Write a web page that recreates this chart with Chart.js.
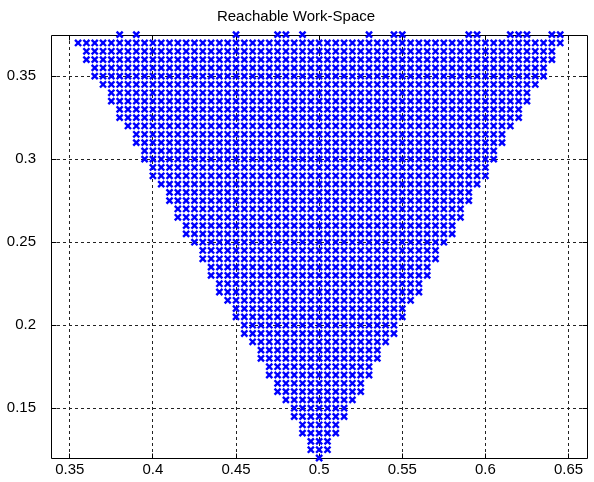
<!DOCTYPE html>
<html>
<head>
<meta charset="utf-8">
<script src="https://cdn.jsdelivr.net/npm/chart.js@4/dist/chart.umd.min.js"></script>
<style>
  html, body { margin: 0; padding: 0; background: #fff; }
</style>
</head>
<body>
<canvas id="myChart" width="594" height="482"></canvas>
<script>
// each row of the reachable grid: its y, and the leftmost / rightmost x
var rowY = [0.37, 0.365, 0.36, 0.355, 0.35, 0.345, 0.34, 0.335, 0.33, 0.325,
            0.32, 0.315, 0.31, 0.305, 0.30, 0.295, 0.29, 0.285, 0.28, 0.275,
            0.27, 0.265, 0.26, 0.255, 0.25, 0.245, 0.24, 0.235, 0.23, 0.225,
            0.22, 0.215, 0.21, 0.205, 0.20, 0.195, 0.19, 0.185, 0.18, 0.175,
            0.17, 0.165, 0.16, 0.155, 0.15, 0.145, 0.14, 0.135, 0.13, 0.125, 0.12];
var rowLeft = [0.355, 0.36, 0.36, 0.365, 0.365, 0.37, 0.375, 0.375, 0.38, 0.38,
               0.385, 0.39, 0.39, 0.395, 0.395, 0.40, 0.40, 0.405, 0.41, 0.41,
               0.415, 0.415, 0.42, 0.42, 0.425, 0.43, 0.43, 0.435, 0.435, 0.44,
               0.44, 0.445, 0.45, 0.45, 0.455, 0.455, 0.46, 0.465, 0.465, 0.47,
               0.47, 0.475, 0.475, 0.48, 0.485, 0.485, 0.49, 0.49, 0.495, 0.495, 0.50];
var rowRight = [0.645, 0.64, 0.64, 0.635, 0.635, 0.63, 0.625, 0.625, 0.62, 0.62,
                0.615, 0.61, 0.61, 0.605, 0.605, 0.60, 0.60, 0.595, 0.59, 0.59,
                0.585, 0.585, 0.58, 0.58, 0.575, 0.57, 0.57, 0.565, 0.565, 0.56,
                0.56, 0.555, 0.55, 0.55, 0.545, 0.545, 0.54, 0.535, 0.535, 0.53,
                0.53, 0.525, 0.525, 0.52, 0.515, 0.515, 0.51, 0.51, 0.505, 0.505, 0.50];
var gridStep = 0.005;

// the few points that sit right on the top edge
var topY = 0.375;
var topX = [0.38, 0.39, 0.45, 0.475, 0.48, 0.49, 0.53, 0.545, 0.55,
            0.59, 0.595, 0.615, 0.62, 0.625, 0.64, 0.645];

var xTicks = [0.35, 0.4, 0.45, 0.5, 0.55, 0.6, 0.65];
var yTicks = [0.15, 0.2, 0.25, 0.3, 0.35];

// expand the rows into the points of the grid
var points = [];
for (var i = 0; i < rowY.length; i++) {
  var n = Math.round((rowRight[i] - rowLeft[i]) / gridStep);
  for (var k = 0; k <= n; k++) {
    points.push({ x: +(rowLeft[i] + k * gridStep).toFixed(3), y: rowY[i] });
  }
}
for (var j = 0; j < topX.length; j++) {
  points.push({ x: topX[j], y: topY });
}

var fontFamily = "'Liberation Sans', Arial, Helvetica, sans-serif";

// box round the plot with inward tick marks on all four sides
var boxTicks = {
  id: 'boxTicks',
  beforeDatasetsDraw: function (chart) {
    var ctx = chart.ctx, a = chart.chartArea;
    var xs = chart.scales.x, ys = chart.scales.y;
    var al = function (p) { return Math.round(p - 0.5) + 0.5; };
    var L = al(a.left), R = al(a.right), T = al(a.top), B = al(a.bottom);
    var len = 5;
    ctx.save();
    ctx.strokeStyle = '#000';
    ctx.lineWidth = 1;
    ctx.beginPath();
    ctx.rect(L, T, R - L, B - T);
    xTicks.forEach(function (v) {
      var px = al(xs.getPixelForValue(v));
      ctx.moveTo(px, B); ctx.lineTo(px, B - len);
      ctx.moveTo(px, T); ctx.lineTo(px, T + len);
    });
    yTicks.forEach(function (v) {
      var py = al(ys.getPixelForValue(v));
      ctx.moveTo(L, py); ctx.lineTo(L + len, py);
      ctx.moveTo(R, py); ctx.lineTo(R - len, py);
    });
    ctx.stroke();
    ctx.restore();
  }
};

var ctx = document.getElementById('myChart').getContext('2d');
var chart = new Chart(ctx, {
  type: 'scatter',
  data: {
    datasets: [{
      label: 'work-space',
      data: points,
      pointStyle: 'crossRot',
      pointRadius: 4.3,
      pointBorderWidth: 2.4,
      borderColor: '#0000ff',
      backgroundColor: '#0000ff',
      showLine: false,
      clip: false
    }]
  },
  options: {
    responsive: false,
    animation: false,
    events: [],
    devicePixelRatio: 1,
    layout: { padding: { left: 0, right: 2, top: 0, bottom: 0 } },
    plugins: {
      legend: { display: false },
      tooltip: { enabled: false },
      title: {
        display: true,
        text: 'Reachable Work-Space',
        color: '#000',
        font: { family: fontFamily, size: 15, weight: 'normal', lineHeight: 1.2 },
        padding: { top: 8, bottom: 9 }
      }
    },
    scales: {
      x: {
        type: 'linear',
        min: 0.3387,
        max: 0.6613,
        afterBuildTicks: function (s) { s.ticks = xTicks.map(function (v) { return { value: v }; }); },
        afterFit: function (s) { s.height = 21; },
        grid: { color: '#222', lineWidth: 1, drawTicks: false },
        border: { display: false, dash: [3, 3] },
        ticks: {
          color: '#000',
          padding: 3,
          maxRotation: 0,
          font: { family: fontFamily, size: 15 },
          callback: function (v) { return String(v); }
        }
      },
      y: {
        type: 'linear',
        min: 0.12,
        max: 0.3748,
        afterBuildTicks: function (s) { s.ticks = yTicks.map(function (v) { return { value: v }; }); },
        afterFit: function (s) { s.width = 51; },
        grid: { color: '#222', lineWidth: 1, drawTicks: false },
        border: { display: false, dash: [3, 3] },
        ticks: {
          color: '#000',
          padding: 15,
          font: { family: fontFamily, size: 15 },
          callback: function (v) { return String(v); }
        }
      }
    }
  },
  plugins: [boxTicks]
});
</script>
</body>
</html>
